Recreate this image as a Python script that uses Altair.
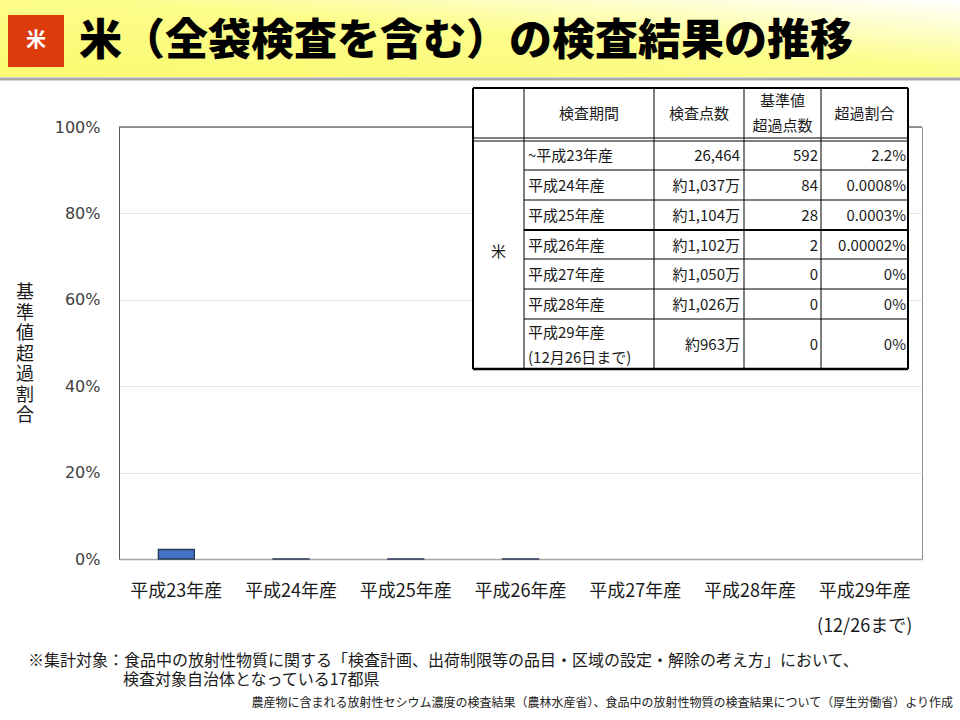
import altair as alt
import pandas as pd

# ---------------- data ----------------
categories = ["平成23年産", "平成24年産", "平成25年産", "平成26年産",
              "平成27年産", "平成28年産", "平成29年産\n(12/26まで)"]
rates = [0.022, 0.000008, 0.000003, 0.0000002, 0.0, 0.0, 0.0]

tbl_header = ["", "検査期間", "検査点数", "基準値\n超過点数", "超過割合"]
tbl_item = "米"
tbl_periods = ["~平成23年産", "平成24年産", "平成25年産", "平成26年産",
               "平成27年産", "平成28年産", "平成29年産\n(12月26日まで)"]
tbl_counts = ["26,464", "約1,037万", "約1,104万", "約1,102万",
              "約1,050万", "約1,026万", "約963万"]
tbl_exceed = ["592", "84", "28", "2", "0", "0", "0"]
tbl_rates = ["2.2%", "0.0008%", "0.0003%", "0.00002%", "0%", "0%", "0%"]

title_text = "米（全袋検査を含む）の検査結果の推移"
badge_text = "米"
y_title = "基準値超過割合"
note1 = "※集計対象：食品中の放射性物質に関する「検査計画、出荷制限等の品目・区域の設定・解除の考え方」において、"
note2 = "検査対象自治体となっている17都県"
source = "農産物に含まれる放射性セシウム濃度の検査結果（農林水産省）、食品中の放射性物質の検査結果について（厚生労働省）より作成"

# ---------------- layout ----------------
OX, OY = 119, 127          # plot origin on the page
W, H = 803, 432
JP = "Noto Sans CJK JP"
LH = 25                    # line height inside table cells

df = pd.DataFrame({"cat": categories, "rate": rates})
one = pd.DataFrame({"k": [0]})

bars = alt.Chart(df).mark_bar(size=36, fill="#4472c4", strokeWidth=1.3).encode(
    x=alt.X("cat:N", sort=categories, title=None,
            scale=alt.Scale(paddingInner=0.686, paddingOuter=0.343),
            axis=alt.Axis(labelExpr="split(datum.label, '\\n')", labelAngle=0,
                          labelFont=JP, labelFontSize=18, labelColor="#1a1a1a",
                          labelPadding=23, labelLineHeight=35, ticks=False,
                          domainColor="#a6a6a6", domainWidth=1.5)),
    y=alt.Y("rate:Q", title=None,
            scale=alt.Scale(domain=[0, 1]),
            axis=alt.Axis(values=[0, 0.2, 0.4, 0.6, 0.8, 1.0], format=".0%",
                          labelFont="DejaVu Sans", labelFontSize=16,
                          labelColor="#404040", labelPadding=19, ticks=False,
                          grid=True, gridColor="#e6e6e6", domainColor="#595959")),
    stroke=alt.condition("datum.rate > 0", alt.value("#2b3a57"), alt.value("transparent")),
)

top_rule = alt.Chart(one).mark_rule(color="#333333", strokeWidth=1).encode(
    x=alt.value(0), x2=alt.value(W), y=alt.value(0))

# ---------------- table ----------------
col_edges = [473, 524, 654, 744, 821, 908]
row_edges = [88, 139, 170, 200, 230, 259, 289, 319, 369]

cells = []
def cell(txt, x, y, align):
    n = txt.count("\n")
    cells.append({"t": txt, "x": x - OX, "y": y - OY - n * LH / 2, "a": align})

hy = (row_edges[0] + row_edges[1]) / 2
for i in range(1, 5):
    cell(tbl_header[i], (col_edges[i] + col_edges[i + 1]) / 2, hy, "center")
cell(tbl_item, (col_edges[0] + col_edges[1]) / 2, (row_edges[1] + row_edges[-1]) / 2 - 2, "center")
for r in range(7):
    cy = (row_edges[r + 1] + row_edges[r + 2]) / 2 + 1
    cell(tbl_periods[r], col_edges[1] + 4, cy, "left")
    cell(tbl_counts[r], col_edges[3] - 4, cy, "right")
    cell(tbl_exceed[r], col_edges[4] - 3, cy, "right")
    cell(tbl_rates[r], col_edges[5] - 2, cy, "right")
cells_df = pd.DataFrame(cells)

lines = []
def line(x1, y1, x2, y2, w):
    lines.append({"x": x1 - OX, "y": y1 - OY, "x2": x2 - OX, "y2": y2 - OY, "w": w})

L, R, T, B = col_edges[0], col_edges[-1], row_edges[0], row_edges[-1]
line(L, T, R, T, 2); line(L, B, R, B, 2.5); line(L, T, L, B, 2); line(R, T, R, B, 2)
for cx in col_edges[1:-1]:
    line(cx, T, cx, B, 1)
line(L, row_edges[1] - 1, R, row_edges[1] - 1, 1)
line(L, row_edges[1] + 2, R, row_edges[1] + 2, 1)
for k in range(2, len(row_edges) - 1):
    line(col_edges[1], row_edges[k], R, row_edges[k], 2 if row_edges[k] == 230 else 1)
lines_df = pd.DataFrame(lines)

tbl_bg = alt.Chart(one).mark_rect(fill="white").encode(
    x=alt.value(L - OX), x2=alt.value(R - OX), y=alt.value(T - OY), y2=alt.value(B - OY))

tbl_lines = alt.Chart(lines_df).mark_rule(color="#000000").encode(
    x=alt.X("x:Q", scale=None, axis=None), x2="x2:Q",
    y=alt.Y("y:Q", scale=None, axis=None), y2="y2:Q",
    strokeWidth=alt.StrokeWidth("w:Q", scale=None, legend=None))

def txt_layer(align):
    return alt.Chart(cells_df).transform_filter(alt.datum.a == align).mark_text(
        align=align, baseline="middle", font=JP, fontSize=15, color="#1a1a1a",
        lineBreak="\n", lineHeight=LH).encode(
        x=alt.X("x:Q", scale=None, axis=None),
        y=alt.Y("y:Q", scale=None, axis=None),
        text="t:N")

table = alt.layer(tbl_bg, tbl_lines, txt_layer("left"), txt_layer("center"), txt_layer("right"))

# ---------------- title band & notes ----------------
band = alt.Chart(one).mark_rect(fill=alt.Gradient(
    gradient="linear", x1=0, y1=1, x2=1, y2=0,
    stops=[alt.GradientStop(offset=0, color="#fafa70"),
           alt.GradientStop(offset=0.55, color="#fdfd8c"),
           alt.GradientStop(offset=1, color="#ffffff")])).encode(
    x=alt.value(-OX), x2=alt.value(960 - OX), y=alt.value(-OY), y2=alt.value(77 - OY))
shadow = alt.Chart(one).mark_rule(color="#a8a8a8", strokeWidth=3).encode(
    x=alt.value(-OX), x2=alt.value(960 - OX), y=alt.value(79 - OY))
badge = alt.Chart(one).mark_rect(fill="#dc3c0c").encode(
    x=alt.value(8 - OX), x2=alt.value(64 - OX), y=alt.value(15 - OY), y2=alt.value(67 - OY))
badge_t = alt.Chart(one).mark_text(text=badge_text, font=JP, fontSize=20, fontWeight="bold",
                                   color="white", align="center", baseline="middle").encode(
    x=alt.value(36 - OX), y=alt.value(41 - OY))
title_t = alt.Chart(one).mark_text(text=title_text, font=JP, fontSize=43, fontWeight=900,
                                   color="#000000", align="left", baseline="middle").encode(
    x=alt.value(79 - OX), y=alt.value(42 - OY))

# vertical (stacked) axis title, one glyph per row
ychars = pd.DataFrame({"c": list(y_title),
                       "y": [293 + i * 20.5 - OY for i in range(len(y_title))]})
ytitle = alt.Chart(ychars).mark_text(font=JP, fontSize=18, color="#1a1a1a",
                                     align="center", baseline="middle").encode(
    x=alt.value(25 - OX), y=alt.Y("y:Q", scale=None, axis=None), text="c:N")

n1 = alt.Chart(one).mark_text(text=note1, font=JP, fontSize=16, color="#1a1a1a",
                              align="left", baseline="middle").encode(
    x=alt.value(28 - OX), y=alt.value(661 - OY))
n2 = alt.Chart(one).mark_text(text=note2, font=JP, fontSize=16, color="#1a1a1a",
                              align="left", baseline="middle").encode(
    x=alt.value(123 - OX), y=alt.value(680 - OY))
src = alt.Chart(one).mark_text(text=source, font=JP, fontSize=12, color="#1a1a1a",
                               align="right", baseline="middle").encode(
    x=alt.value(953 - OX), y=alt.value(703 - OY))

chart = alt.layer(
    band, shadow, badge, badge_t, title_t,
    bars, top_rule, table, ytitle, n1, n2, src
).resolve_scale(x="independent", y="independent").properties(
    width=W, height=H,
    autosize=alt.AutoSizeParams(type="none"),
    padding={"left": OX, "top": OY, "right": 960 - OX - W, "bottom": 720 - OY - H},
    background="white",
).configure_view(stroke="#8c8c8c", strokeWidth=1)

chart.save("out.html", embed_options={"renderer": "svg", "actions": False})
